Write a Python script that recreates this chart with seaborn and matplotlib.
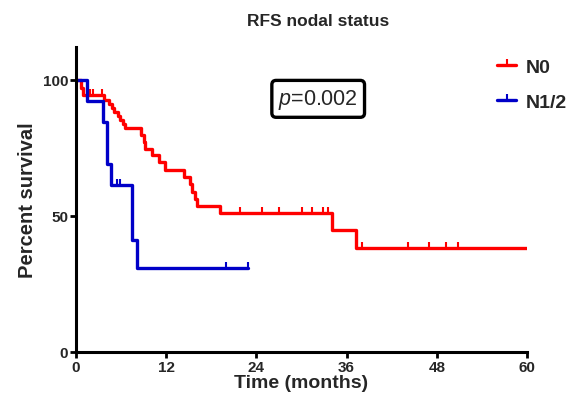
import numpy as np
import pandas as pd
import matplotlib
matplotlib.use("Agg")
import matplotlib.pyplot as plt
from matplotlib.lines import Line2D
import seaborn as sns

# ---- data ----
groups = ["N0", "N1/2"]
colors = {"N0": "#ff0000", "N1/2": "#0000c8"}

n0_time = [0, 0.6, 0.9, 3.7, 4.4, 4.8, 5.1, 5.6, 5.9, 6.2, 6.5, 8.6, 9.0, 9.2,
           10.1, 11.1, 11.8, 14.4, 15.1, 15.4, 15.8, 16.1, 19.1, 34.0, 37.3, 60.0]
n0_surv = [100, 97.1, 94.2, 92.7, 91.2, 89.7, 88.2, 86.7, 85.2, 83.7, 82.2, 79.7, 77.2, 74.7,
           72.2, 69.7, 67.0, 64.3, 61.6, 58.9, 56.2, 53.5, 51.1, 44.7, 38.3, 38.3]
n0_censor = [1.9, 2.3, 3.4, 8.7, 21.8, 24.8, 27.0, 30.1, 31.4, 32.8, 33.5,
             38.1, 44.2, 46.9, 49.2, 50.8]

n12_time = [0, 1.4, 3.6, 4.1, 4.7, 7.5, 8.1, 22.9]
n12_surv = [100, 92.3, 84.6, 69.2, 61.5, 41.0, 30.8, 30.8]
n12_censor = [5.5, 5.9, 19.9, 22.9]

x_ticks = [0, 12, 24, 36, 48, 60]
y_ticks = [0, 50, 100]
title = "RFS nodal status"
p_text = "$p$=0.002"

curves = {"N0": (n0_time, n0_surv, n0_censor),
          "N1/2": (n12_time, n12_surv, n12_censor)}

rows = []
for g in groups:
    t, s, _ = curves[g]
    for ti, si in zip(t, s):
        rows.append({"time": ti, "surv": si, "group": g})
df = pd.DataFrame(rows)

# ---- style ----
sns.set_theme(style="ticks")
plt.rcParams["font.family"] = ["Liberation Sans", "DejaVu Sans"]
plt.rcParams["mathtext.fontset"] = "custom"
plt.rcParams["mathtext.it"] = "Liberation Sans:italic"
plt.rcParams["mathtext.rm"] = "Liberation Sans"

fig = plt.figure(figsize=(5.77, 4.06), dpi=100)
ax = fig.add_axes([76 / 577, 1 - 353 / 406, 451 / 577, 305 / 406])

for g in groups:
    sub = df[df.group == g]
    sns.lineplot(data=sub, x="time", y="surv", ax=ax, color=colors[g],
                 drawstyle="steps-post", estimator=None, sort=False,
                 linewidth=2.4, legend=False)
    t, s, c = curves[g]
    idx = np.searchsorted(np.array(t), np.array(c), side="right") - 1
    cs = np.array(s)[idx]
    ax.plot(c, cs, linestyle="none", marker=2, markersize=4.5, mew=1.5,
            color=colors[g])

ax.set_xlim(0, 60)
ax.set_ylim(0, 112)
ax.set_xticks(x_ticks)
ax.set_yticks(y_ticks)
ax.set_xticklabels([str(v) for v in x_ticks], fontsize=11, fontweight="bold")
ax.set_yticklabels([str(v) for v in y_ticks], fontsize=11, fontweight="bold")
ax.tick_params(axis="both", direction="out", width=2, length=4, pad=1.5, color="black")
for sp in ["top", "right"]:
    ax.spines[sp].set_visible(False)
for sp in ["left", "bottom"]:
    ax.spines[sp].set_linewidth(2.2)
    ax.spines[sp].set_color("black")
ax.set_xlabel("Time (months)", fontsize=14, fontweight="bold", labelpad=0)
ax.set_ylabel("Percent survival", fontsize=14.5, fontweight="bold", labelpad=4)
fig.text(318 / 577, 1 - 22 / 406, title, ha="center", va="center",
         fontsize=12.5, fontweight="bold")

ax.text(0.537, 0.83, p_text, transform=ax.transAxes, ha="center", va="center",
        fontsize=15.5,
        bbox=dict(boxstyle="round,pad=0.3,rounding_size=0.2", fc="white",
                  ec="black", lw=2.4))

handles = [Line2D([0], [0], color=colors[g], lw=2.4, marker=2, markersize=4.5, mew=1.5)
           for g in groups]
leg = fig.legend(handles, groups, loc="upper left",
                 bbox_to_anchor=(497 / 577, 1 - 59 / 406), frameon=False,
                 prop={"weight": "bold", "size": 14}, handlelength=1.0,
                 handletextpad=0.5, labelspacing=0.9, borderpad=0,
                 borderaxespad=0)

fig.savefig("out.png", dpi=100, facecolor="white")
